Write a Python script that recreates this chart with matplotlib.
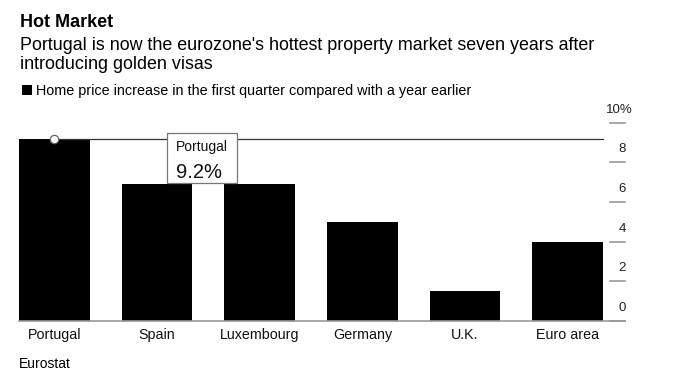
import matplotlib
matplotlib.use("Agg")
import matplotlib.pyplot as plt
import matplotlib.transforms as mtransforms
from matplotlib.patches import Rectangle

plt.rcParams['font.family'] = ['Liberation Sans', 'DejaVu Sans']

categories = ["Portugal", "Spain", "Luxembourg", "Germany", "U.K.", "Euro area"]
values = [9.2, 6.9, 6.9, 5.0, 1.5, 4.0]
ytick_values = [0, 2, 4, 6, 8, 10]
ytick_labels = ["0", "2", "4", "6", "8", "10%"]

W, H = 676, 383
fig = plt.figure(figsize=(W / 100, H / 100), dpi=100)

def fx(px):
    return px / W

def fy(py):
    return 1 - py / H

ax_left, ax_right = 19, 603
ax_bottom, ax_top = 321, 122.7
ax = fig.add_axes([fx(ax_left), fy(ax_bottom), fx(ax_right - ax_left), (ax_bottom - ax_top) / H])

xs = list(range(len(categories)))
ax.bar(xs, values, width=0.69, color="black", zorder=2)
ax.set_xlim(-0.345, len(categories) - 1 + 0.345)
ax.set_ylim(0, 10)
ax.axis("off")

# reference line at highlighted value
ax.plot([xs[0], 5.345], [values[0], values[0]], color="#333333", lw=0.9, zorder=3, clip_on=False)
ax.plot([xs[0]], [values[0]], marker="o", ms=6, mfc="white", mec="#666666", mew=0.9, zorder=4, clip_on=False)

# baseline
trans_ax_x = mtransforms.blended_transform_factory(ax.transAxes, ax.transData)
x_end = (625 - ax_left) / (ax_right - ax_left)
ax.plot([0, x_end], [0, 0], color="#999999", lw=1.2, transform=trans_ax_x, clip_on=False, zorder=3)

# right-side ticks
t0 = (610 - ax_left) / (ax_right - ax_left)
t1 = (625 - ax_left) / (ax_right - ax_left)
tc = (622 - ax_left) / (ax_right - ax_left)
for v, lab in zip(ytick_values, ytick_labels):
    ax.plot([t0, t1], [v, v], color="#999999", lw=1.2, transform=trans_ax_x, clip_on=False)
    off = mtransforms.offset_copy(trans_ax_x, fig=fig, x=0, y=7, units="dots")
    if lab.endswith("%"):
        ax.text(tc - 0.004, v, lab, transform=off, ha="center", va="bottom", fontsize=9.5, color="#222222")
    else:
        ax.text(tc, v, lab, transform=off, ha="center", va="bottom", fontsize=9.5, color="#222222")

# category labels
for x, c in zip(xs, categories):
    ax.text(x, 0, c, transform=mtransforms.offset_copy(ax.transData, fig=fig, x=0, y=-18, units="dots"),
            ha="center", va="baseline", fontsize=10.3, color="#111111")

# tooltip
bx0, bx1 = 1.10, 1.775
by0, by1 = 6.97, 9.47
ax.add_patch(Rectangle((bx0, by0), bx1 - bx0, by1 - by0, facecolor="white", edgecolor="#777777",
                       lw=0.9, zorder=5, clip_on=False))
ax.text(bx0 + 0.085, 8.55, categories[0], fontsize=10, ha="left", va="baseline", zorder=6, color="#111111")
ax.text(bx0 + 0.085, 7.2, f"{values[0]}%", fontsize=14.5, ha="left", va="baseline", zorder=6, color="#111111")

# titles
fig.text(fx(20), fy(27.3), "Hot Market", fontsize=13, fontweight="bold", ha="left", va="baseline")
fig.text(fx(20), fy(49.5), "Portugal is now the eurozone's hottest property market seven years after",
         fontsize=12.9, ha="left", va="baseline")
fig.text(fx(20), fy(69), "introducing golden visas", fontsize=12.9, ha="left", va="baseline")

# legend
fig.patches.append(Rectangle((fx(21.7), fy(94.7)), fx(10), 9.4 / H, transform=fig.transFigure,
                             facecolor="black", edgecolor="none"))
fig.text(fx(36.5), fy(94.7), "Home price increase in the first quarter compared with a year earlier",
         fontsize=10.4, ha="left", va="baseline")

# source
fig.text(fx(19), fy(367.7), "Eurostat", fontsize=10, ha="left", va="baseline")

fig.savefig("out.png", dpi=100)
